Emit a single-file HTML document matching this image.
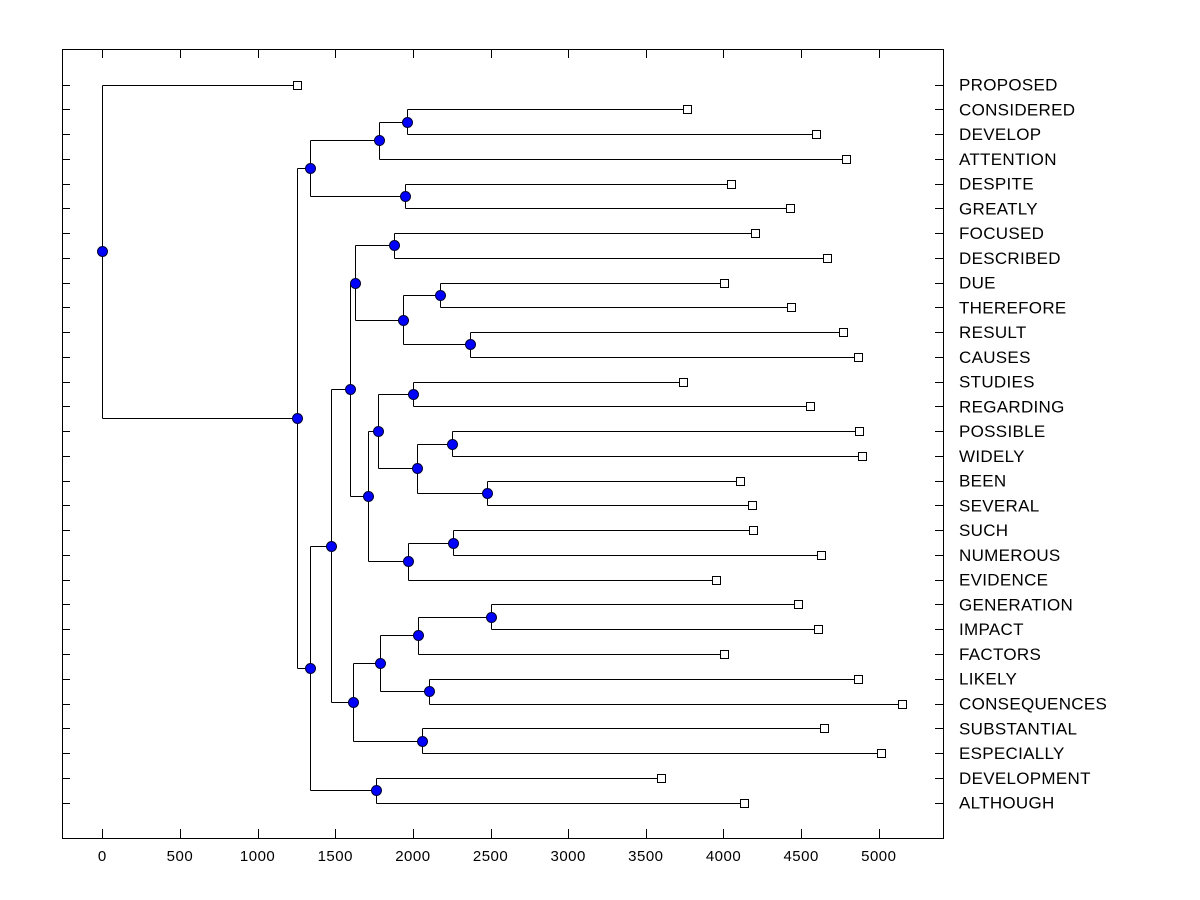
<!DOCTYPE html>
<html><head><meta charset="utf-8"><style>
body{margin:0;background:#fff}
svg{display:block;font-family:"Liberation Sans",Arial,sans-serif}
</style></head><body>
<svg id="chart" width="1200" height="900" viewBox="0 0 1200 900"></svg>
<script>
const labels=["PROPOSED","CONSIDERED","DEVELOP","ATTENTION","DESPITE","GREATLY","FOCUSED","DESCRIBED","DUE","THEREFORE","RESULT","CAUSES","STUDIES","REGARDING","POSSIBLE","WIDELY","BEEN","SEVERAL","SUCH","NUMEROUS","EVIDENCE","GENERATION","IMPACT","FACTORS","LIKELY","CONSEQUENCES","SUBSTANTIAL","ESPECIALLY","DEVELOPMENT","ALTHOUGH"];
const leafValues=[1254,3765,4596,4790,4048,4428,4205,4668,4003,4435,4771,4866,3739,4557,4873,4892,4106,4184,4190,4628,3952,4480,4609,4003,4866,5150,4648,5015,3598,4132];
const nodeNames=["F","D","E","B","M","O","P","N","K","S","U","V","T","Q","W","R","L","I","AB","Z","AA","X","Y","J","G","H","C","A","ROOT"];
const nodeHeights=[1961,1783,1950,1339,1878,2174,2367,1936,1627,2001,2252,2477,2027,1776,2259,1969,1711,1595,2503,2033,2105,1789,2059,1614,1473,1764,1339,1254,0];
const nodeChildren=[[1,2],["F",3],[4,5],["D","E"],[6,7],[8,9],[10,11],["O","P"],["M","N"],[12,13],[14,15],[16,17],["U","V"],["S","T"],[18,19],["W",20],["Q","R"],["K","L"],[21,22],["AB",23],[24,25],["Z","AA"],[26,27],["X","Y"],["I","J"],[28,29],["G","H"],["B","C"],[0,"A"]];
const xTicks=[0,500,1000,1500,2000,2500,3000,3500,4000,4500,5000];

const svg=document.getElementById('chart');
const NS='http://www.w3.org/2000/svg';
const L=62,R=943,T=49,B=838;
const xs=v=>102.3+v*0.1553;
const ys=i=>84.5+i*24.76;
function mk(tag,attrs,parent){const e=document.createElementNS(NS,tag);for(const k in attrs)e.setAttribute(k,attrs[k]);(parent||svg).appendChild(e);return e;}

const frame=mk('rect',{x:L+0.5,y:T+0.5,width:R-L,height:B-T,fill:'none',stroke:'#000','stroke-width':1});



const xg=mk('g',{});


xTicks.forEach(v=>{
  const x=Math.round(xs(v))+0.5;
  mk('line',{x1:x,x2:x,y1:B,y2:B-9,stroke:'#000'},xg);
  mk('line',{x1:x,x2:x,y1:T,y2:T+9,stroke:'#000'},xg);
  const t=mk('text',{x:xs(v),y:861,'text-anchor':'middle','font-size':15,'letter-spacing':0.5,fill:'#000'},xg);
  t.textContent=v;
  
  
});

const lg=mk('g',{});


labels.forEach((s,i)=>{
  const y=Math.round(ys(i))+0.5;
  mk('line',{x1:L,x2:L+8,y1:y,y2:y,stroke:'#000'},lg);
  mk('line',{x1:R-8,x2:R,y1:y,y2:y,stroke:'#000'},lg);
  const t=mk('text',{x:959,y:ys(i)+6,'font-size':17,'letter-spacing':0.3,fill:'#000'},lg);
  t.textContent=s;
  
  
});

const pos={};
labels.forEach((s,i)=>{pos[i]={x:xs(leafValues[i]),y:ys(i),leaf:true};});
nodeNames.forEach((n,k)=>{
  const ch=nodeChildren[k].map(c=>pos[c]);
  pos[n]={x:xs(nodeHeights[k]),y:(ch[0].y+ch[1].y)/2,leaf:false,ch:ch};
});
const lines=mk('g',{fill:'none',stroke:'#000','stroke-width':1});


nodeNames.forEach(n=>{
  const p=pos[n];const x=Math.round(p.x)+0.5;
  const y0=Math.round(p.ch[0].y)+0.5,y1=Math.round(p.ch[1].y)+0.5;
  mk('path',{d:`M${x},${y0}L${x},${y1}M${x},${y0}L${p.ch[0].x},${y0}M${x},${y1}L${p.ch[1].x},${y1}`},lines);
});
const marks=mk('g',{});


labels.forEach((s,i)=>{
  const p=pos[i];
  const r=mk('rect',{x:Math.round(p.x)-3.5,y:Math.round(p.y)-3.5,width:8,height:8,fill:'#fff',stroke:'#000'},marks);
  
  
});
nodeNames.forEach(n=>{
  const p=pos[n];
  const c=mk('circle',{cx:Math.round(p.x)+0.5,cy:Math.round(p.y)+0.5,r:5,fill:'#0000ff',stroke:'#000033','stroke-width':1},marks);
  
  
});
</script>
</body></html>
